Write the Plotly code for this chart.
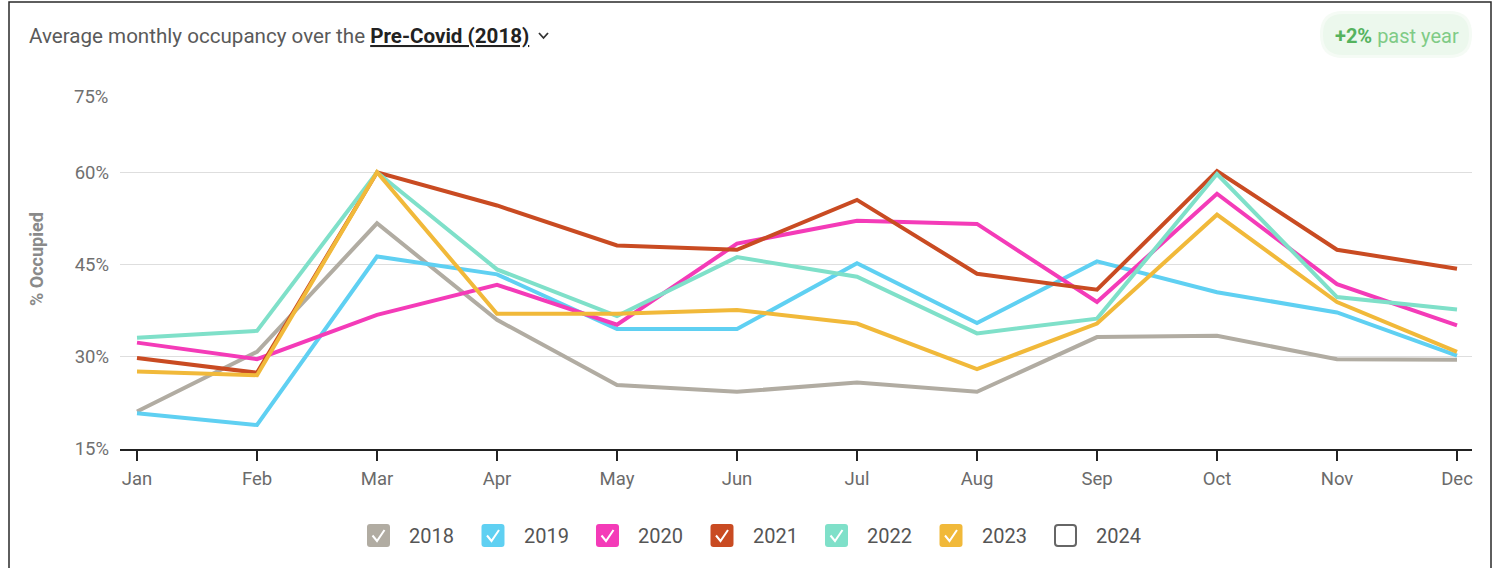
import plotly.graph_objects as go

months = ["Jan", "Feb", "Mar", "Apr", "May", "Jun", "Jul", "Aug", "Sep", "Oct", "Nov", "Dec"]
years = ["2018", "2019", "2020", "2021", "2022", "2023", "2024"]
y2018 = [21.1, 30.8, 51.7, 36.0, 25.4, 24.3, 25.8, 24.3, 33.2, 33.4, 29.6, 29.5]
y2019 = [20.8, 18.9, 46.3, 43.4, 34.5, 34.5, 45.2, 35.5, 45.5, 40.5, 37.2, 30.2]
y2020 = [32.3, 29.6, 36.8, 41.7, 35.2, 48.4, 52.1, 51.6, 38.9, 56.5, 41.8, 35.1]
y2021 = [29.8, 27.4, 60.0, 54.6, 48.1, 47.4, 55.5, 43.5, 40.9, 60.2, 47.4, 44.3]
y2022 = [33.1, 34.2, 60.0, 44.2, 36.6, 46.2, 43.0, 33.8, 36.2, 59.7, 39.7, 37.7]
y2023 = [27.6, 27.0, 60.0, 37.0, 37.0, 37.6, 35.4, 28.0, 35.4, 53.1, 38.9, 30.8]
y2024 = []
series = [y2018, y2019, y2020, y2021, y2022, y2023, y2024]
colors = ["#b1aca2", "#5fd0f2", "#f43bb8", "#c94b22", "#7fe0c9", "#f1b93a", "#666666"]
checked = [True, True, True, True, True, True, False]
ytick_vals = [15, 30, 45, 60, 75]
ytick_text = ["15%", "30%", "45%", "60%", "75%"]

W, H = 1498, 568
PL, PR, PT, PB = 120, 1472, 80, 449
FONT = "Roboto"


def px(x):
    return (x - PL) / (PR - PL)


def py(y):
    return (PB - y) / (PB - PT)


def rrect(x0, y0, x1, y1, r):
    pts = [
        ("M", [(x0 + r, y0)]),
        ("L", [(x1 - r, y0)]),
        ("Q", [(x1, y0), (x1, y0 + r)]),
        ("L", [(x1, y1 - r)]),
        ("Q", [(x1, y1), (x1 - r, y1)]),
        ("L", [(x0 + r, y1)]),
        ("Q", [(x0, y1), (x0, y1 - r)]),
        ("L", [(x0, y0 + r)]),
        ("Q", [(x0, y0), (x0 + r, y0)]),
    ]
    s = ""
    for cmd, ps in pts:
        s += cmd + " " + " ".join(f"{px(a):.5f},{py(b):.5f}" for a, b in ps) + " "
    return s + "Z"


fig = go.Figure()
for yr, vals, col in zip(years, series, colors):
    if vals:
        fig.add_trace(go.Scatter(x=months[:len(vals)], y=vals, mode="lines", name=yr,
                                 line=dict(color=col, width=4), showlegend=False))

shapes = []
annotations = []

# outer frame
shapes.append(dict(type="rect", xref="paper", yref="paper", x0=px(9), x1=px(1491), y0=py(2), y1=py(580),
                   line=dict(color="#2a2a2a", width=1.5), layer="below"))

# header
annotations.append(dict(xref="paper", yref="paper", x=px(27), y=py(36), xanchor="left", yanchor="middle",
                        showarrow=False,
                        text="<span style='color:#5a5a5a'>Average monthly occupancy over the </span>"
                             "<span style='color:#222222;text-decoration:underline'><b>Pre-Covid (2018)</b></span>",
                        font=dict(family=FONT, size=20.6)))
shapes.append(dict(type="path", xref="paper", yref="paper",
                   path=f"M {px(539):.5f},{py(33):.5f} L {px(543.5):.5f},{py(38):.5f} L {px(548):.5f},{py(33):.5f}",
                   line=dict(color="#333333", width=1.8)))

# badge
shapes.append(dict(type="path", xref="paper", yref="paper", path=rrect(1320, 11, 1472, 58, 23),
                   fillcolor="#f5fbf5", line=dict(width=0), layer="below"))
shapes.append(dict(type="path", xref="paper", yref="paper", path=rrect(1323, 14, 1469, 55, 20),
                   fillcolor="#ecf8ed", line=dict(width=0), layer="below"))
annotations.append(dict(xref="paper", yref="paper", x=px(1397), y=py(36), xanchor="center", yanchor="middle",
                        showarrow=False,
                        text="<b><span style='color:#55b35e'>+2%</span></b><span style='color:#7fcb86'> past year</span>",
                        font=dict(family=FONT, size=20)))

# y axis title
annotations.append(dict(xref="paper", yref="paper", x=px(36), y=py(259), xanchor="center", yanchor="middle",
                        showarrow=False, textangle=-90, text="<b>% Occupied</b>",
                        font=dict(family=FONT, size=18, color="#8a8a8a")))

# 75% label sits lower than its gridline
annotations.append(dict(xref="paper", yref="paper", x=px(110), y=py(97), xanchor="right", yanchor="middle",
                        showarrow=False, text=ytick_text[-1],
                        font=dict(family=FONT, size=18.5, color="#707070")))

# legend
for i, (yr, col, chk) in enumerate(zip(years, colors, checked)):
    bx = 367 + i * 114.5
    by = 524
    if chk:
        shapes.append(dict(type="path", xref="paper", yref="paper", path=rrect(bx, by, bx + 23, by + 23, 3),
                           fillcolor=col, line=dict(width=0)))
        shapes.append(dict(type="path", xref="paper", yref="paper",
                           path=f"M {px(bx + 5.5):.5f},{py(by + 11.5):.5f} L {px(bx + 10):.5f},{py(by + 17):.5f} "
                                f"L {px(bx + 17.5):.5f},{py(by + 6):.5f}",
                           line=dict(color="white", width=2)))
    else:
        shapes.append(dict(type="path", xref="paper", yref="paper", path=rrect(bx + 1, by + 1, bx + 22, by + 22, 3),
                           fillcolor="white", line=dict(color=col, width=2)))
    annotations.append(dict(xref="paper", yref="paper", x=px(bx + 40), y=py(by + 11.5), xanchor="left",
                            yanchor="middle", showarrow=False, text=yr,
                            font=dict(family=FONT, size=20, color="#555555")))

fig.update_layout(
    width=W, height=H, autosize=False,
    margin=dict(l=PL, r=W - PR, t=PT, b=H - PB, pad=0),
    paper_bgcolor="white", plot_bgcolor="white",
    shapes=shapes, annotations=annotations,
    showlegend=False,
    xaxis=dict(type="category", range=[-0.1417, 11.125], tickmode="array", tickvals=months, ticktext=months,
               showgrid=False, zeroline=False, showline=True, linecolor="#222222", linewidth=2,
               ticks="outside", ticklen=10, tickwidth=2, tickcolor="#222222",
               tickfont=dict(family=FONT, size=18.5, color="#6b6b6b"), ticklabelstandoff=2),
    yaxis=dict(range=[15, 75], tickmode="array", tickvals=ytick_vals,
               ticktext=ytick_text[:-1] + [""], showgrid=True, gridcolor="#dedede", gridwidth=1,
               zeroline=False, showline=False, ticks="",
               tickfont=dict(family=FONT, size=18.5, color="#707070"), ticklabelstandoff=10),
)

fig.write_html("out.html")
